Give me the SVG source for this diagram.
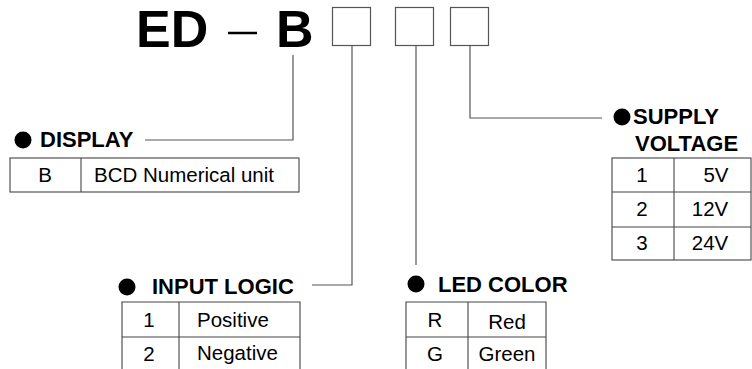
<svg xmlns="http://www.w3.org/2000/svg" width="752" height="369" viewBox="0 0 752 369">
<style>
.t{font-family:"Liberation Sans",Arial,sans-serif;fill:#000}
.h{font-size:22px;font-weight:bold}
.c{font-size:20.5px;text-anchor:middle}
.ln{stroke:#555;stroke-width:1.2;fill:none}
.tb{stroke:#444;stroke-width:1.1;fill:none}
.box{stroke:#555;stroke-width:1.2;fill:#fff}
</style>
<rect width="752" height="369" fill="#fff"/>
<g id="title">
<text class="t" x="136" y="47" font-size="52" font-weight="bold">ED</text>
<line x1="228" y1="33" x2="257" y2="33" stroke="#000" stroke-width="2.5"/>
<text class="t" x="276" y="47" font-size="52" font-weight="bold">B</text>
<rect class="box" x="332.5" y="7.5" width="38" height="38"/>
<rect class="box" x="395.5" y="7.5" width="38" height="38"/>
<rect class="box" x="450.5" y="7.5" width="38" height="38"/>
</g>
<g id="connectors">
<polyline class="ln" points="293,55 293,140 145,140"/>
<polyline class="ln" points="352,45.5 352,285 312,285"/>
<polyline class="ln" points="416,45.5 416,265"/>
<polyline class="ln" points="470,45.5 470,118 602,118"/>
</g>
<g id="display">
<circle cx="23" cy="140" r="8.5"/>
<text class="t h" x="40" y="147">DISPLAY</text>
<rect class="tb" x="10" y="158" width="289" height="34"/>
<line class="tb" x1="81" y1="158" x2="81" y2="192"/>
<text class="t c" x="45" y="182">B</text>
<text class="t c" x="184" y="182">BCD Numerical unit</text>
</g>
<g id="supply-voltage">
<circle cx="622" cy="117" r="8.5"/>
<text class="t h" x="633" y="124">SUPPLY</text>
<text class="t h" x="635" y="151">VOLTAGE</text>
<rect class="tb" x="612" y="158" width="139" height="102"/>
<line class="tb" x1="612" y1="192" x2="751" y2="192"/>
<line class="tb" x1="612" y1="227" x2="751" y2="227"/>
<line class="tb" x1="674" y1="158" x2="674" y2="260"/>
<text class="t c" x="642" y="182">1</text>
<text class="t c" x="716" y="182">5V</text>
<text class="t c" x="642" y="216">2</text>
<text class="t c" x="710" y="216">12V</text>
<text class="t c" x="642" y="250">3</text>
<text class="t c" x="710" y="250">24V</text>
</g>
<g id="input-logic">
<circle cx="127" cy="287" r="8.5"/>
<text class="t h" x="152" y="294">INPUT LOGIC</text>
<polyline class="tb" points="122,369 122,302 300,302 300,369"/>
<line class="tb" x1="122" y1="337" x2="300" y2="337"/>
<line class="tb" x1="179" y1="302" x2="179" y2="369"/>
<text class="t c" x="149" y="327">1</text>
<text class="t c" x="197" y="327" text-anchor="start" style="text-anchor:start">Positive</text>
<text class="t c" x="149" y="361">2</text>
<text class="t c" x="197" y="360" style="text-anchor:start">Negative</text>
</g>
<g id="led-color">
<circle cx="416" cy="284" r="8.5"/>
<text class="t h" x="438" y="292">LED COLOR</text>
<polyline class="tb" points="406,369 406,302 546,302 546,369"/>
<line class="tb" x1="406" y1="337" x2="546" y2="337"/>
<line class="tb" x1="468" y1="302" x2="468" y2="369"/>
<text class="t c" x="435" y="327">R</text>
<text class="t c" x="507" y="329">Red</text>
<text class="t c" x="435" y="361">G</text>
<text class="t c" x="507" y="361">Green</text>
</g>
</svg>
